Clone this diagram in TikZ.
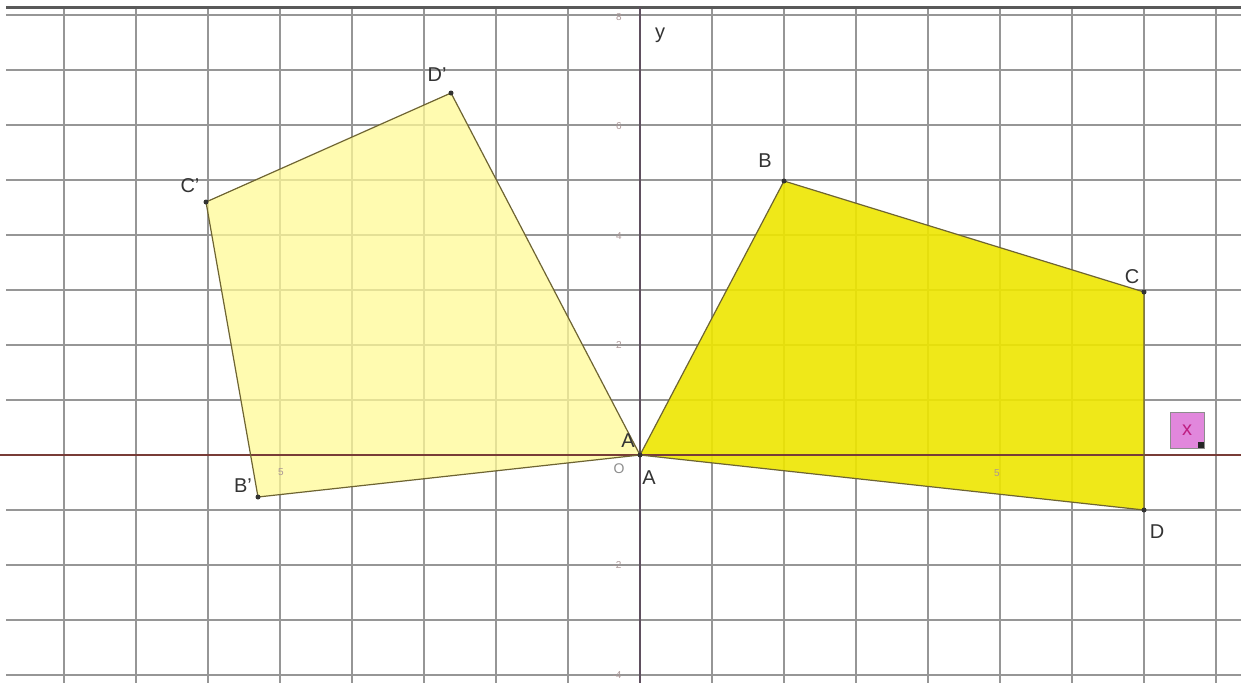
\documentclass[tikz,border=0pt]{standalone}
\usepackage{fontspec}
\setmainfont{Liberation Sans}
\definecolor{gridc}{RGB}{150,150,150}
\definecolor{xaxisc}{RGB}{120,60,55}
\definecolor{yaxisc}{RGB}{95,80,95}
\definecolor{edgec}{RGB}{110,100,50}
\definecolor{fillR}{RGB}{238,230,0}
\definecolor{fillL}{RGB}{255,250,150}
\definecolor{pinkc}{RGB}{225,135,220}
\definecolor{tickc}{RGB}{170,150,150}
\begin{document}
\begin{tikzpicture}[x=1pt,y=-1pt,
  gridline/.style={draw=gridc,line width=1.3pt},
  axisx/.style={draw=xaxisc,line width=2pt},
  axisy/.style={draw=yaxisc,line width=2pt},
  quad/.style={draw=edgec,line width=1.2pt,line join=round},
  vdot/.style={circle,fill=black!80,inner sep=0pt,minimum size=5pt},
  lbl/.style={font=\fontsize{20}{24}\selectfont,text=black!80,inner sep=1pt},
  ticklbl/.style={font=\fontsize{10}{12}\selectfont,text=tickc,inner sep=0pt}]
\useasboundingbox (0,0) rectangle (1241,683);
\fill[white] (0,0) rectangle (1241,683);
% grid
\foreach \gx in {64,136,...,1216} \draw[gridline] (\gx,7) -- (\gx,683);
\foreach \gy in {15,70,...,675} \draw[gridline] (6,\gy) -- (1241,\gy);
\draw[draw=black!65,line width=3pt] (6,7) -- (1241,7);
% vertices
\coordinate (A) at (640,455);
\coordinate (B) at (784,181);
\coordinate (C) at (1144,292);
\coordinate (D) at (1144,510);
\coordinate (Bp) at (258,497);
\coordinate (Cp) at (206,202);
\coordinate (Dp) at (451,93);
% fills
\fill[fillL,fill opacity=0.75] (A) -- (Dp) -- (Cp) -- (Bp) -- cycle;
\fill[fillR,fill opacity=0.9] (A) -- (B) -- (C) -- (D) -- cycle;
% axes
\coordinate (xl) at (0,455);
\coordinate (xr) at (1241,455);
\coordinate (yt) at (640,7);
\coordinate (yb) at (640,683);
\draw[axisx] (xl) -- (xr);
\draw[axisy] (yt) -- (yb);
% outlines
\draw[quad] (A) -- (Dp) -- (Cp) -- (Bp) -- cycle;
\draw[quad] (A) -- (B) -- (C) -- (D) -- cycle;
% dots
\foreach \p in {A,B,C,D,Bp,Cp,Dp} \node[vdot] at (\p) {};
% labels
\node[lbl] (lA1) at (628,441) {A};
\node[lbl] (lA2) at (649,478) {A};
\node[font=\fontsize{14}{16}\selectfont,text=black!45] (lO) at (619,469) {O};
\node[lbl] (lB) at (765,161) {B};
\node[lbl] (lC) at (1132,277) {C};
\node[lbl] (lD) at (1157,532) {D};
\node[lbl] (lBp) at (243,486) {B'};
\node[lbl] (lCp) at (190,186) {C'};
\node[lbl] (lDp) at (437,75) {D'};
\node[lbl] (ly) at (660,35) {y};
% x label box
\node[draw=black!45,fill=pinkc,minimum width=34pt,minimum height=36pt,inner sep=0pt,
      font=\fontsize{20}{24}\selectfont,text={rgb,255:red,190;green,30;blue,130}] (xbox) at (1187,430) {x};
\node[fill=black!85,minimum size=6pt,inner sep=0pt] (xsq) at (1201,445) {};
% tick labels
\node[ticklbl] (t8) at (619,17) {8};
\node[ticklbl] (t6) at (619,126) {6};
\node[ticklbl] (t4) at (619,236) {4};
\node[ticklbl] (t2) at (619,345) {2};
\node[ticklbl] (tm2) at (617,565) {-2};
\node[ticklbl] (tm4) at (617,675) {-4};
\node[ticklbl] (tx5) at (997,473) {5};
\node[ticklbl] (txm5) at (281,472) {5};
\end{tikzpicture}
\end{document}
